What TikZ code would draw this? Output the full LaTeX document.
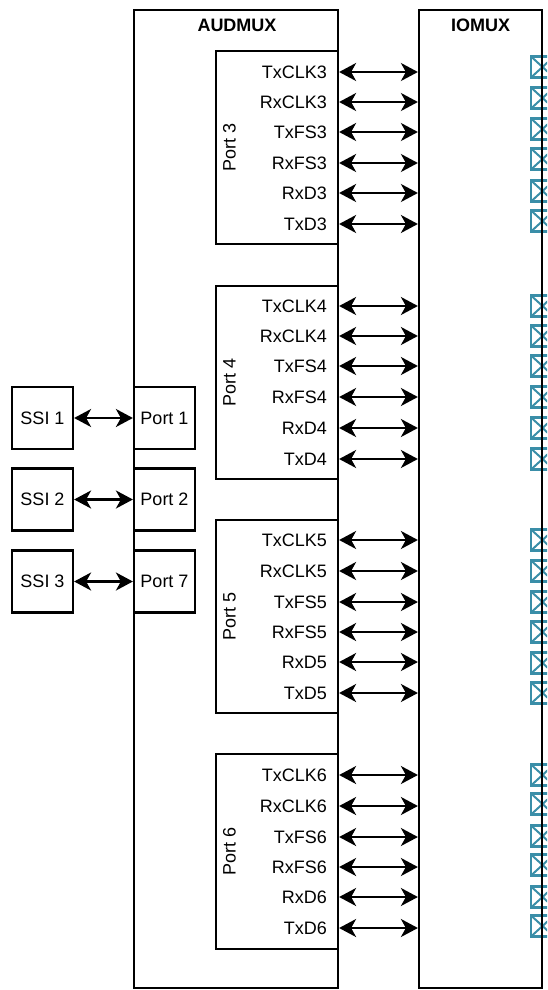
\documentclass[tikz,border=0pt]{standalone}
\usepackage{fontspec}
\setmainfont{Liberation Sans}
\usetikzlibrary{arrows.meta}
\definecolor{padcol}{HTML}{3A8EA8}
\tikzset{
  box/.style={draw=black, line width=2.2pt, inner sep=0pt},
  title/.style={font=\fontsize{18}{21}\selectfont\bfseries, inner sep=0pt},
  lbl/.style={font=\fontsize{18}{21}\selectfont, inner sep=0pt},
  sig/.style={lbl, anchor=east},
  biarrow/.style={line width=2.2pt, {Stealth[length=17pt,width=18pt,inset=5pt]}-{Stealth[length=17pt,width=18pt,inset=5pt]}},
  pad/.style={draw=padcol, line width=2.4pt, minimum width=23pt, minimum height=21pt, inner sep=0pt,
    path picture={\draw[padcol, line width=2pt]
      (path picture bounding box.north west) -- (path picture bounding box.south east)
      (path picture bounding box.south west) -- (path picture bounding box.north east);}}
}
\begin{document}
\begin{tikzpicture}[x=1pt, y=-1pt]
\useasboundingbox (0,0) rectangle (547,990);
\clip (0,0) rectangle (547,990);

% pads (drawn first so that the IOMUX edge lies over them)
\foreach \y [count=\i] in {67,98,129,159,191,221,
                           306,336,366,397,428,459,
                           540,571,602,632,663,693,
                           775,804,836,865,897,926}{
  \node[pad] (pad\i) at (542.5,\y) {};
}

% main boxes
\node[box, minimum width=204pt, minimum height=978pt] (aud) at (236,499) {};
\node[box, minimum width=123pt, minimum height=978pt] (io) at (480.5,499) {};
\node[title] (audt) at (237,25) {AUDMUX};
\node[title] (iot) at (480.5,25) {IOMUX};

% port boxes inside AUDMUX
\node[box, minimum width=122pt, minimum height=193pt] (p3) at (277,147.5) {};
\node[box, minimum width=122pt, minimum height=193pt] (p4) at (277,382.5) {};
\node[box, minimum width=122pt, minimum height=193pt] (p5) at (277,616.5) {};
\node[box, minimum width=122pt, minimum height=195pt] (p6) at (277,851.5) {};

\node[lbl, rotate=90] (p3l) at (229.5,147.5) {Port 3};
\node[lbl, rotate=90] (p4l) at (229.5,382.5) {Port 4};
\node[lbl, rotate=90] (p5l) at (229.5,616.5) {Port 5};
\node[lbl, rotate=90] (p6l) at (229.5,851.5) {Port 6};

% signals
\foreach \p/\ys in {3/{72,102,132,163,193,224},
                    4/{306,336,366,397,428,459},
                    5/{540,571,602,632,662,693},
                    6/{775,806,837,867,897,928}}{
  \foreach \y [count=\k] in \ys {
    \ifcase\k\or
      \def\nm{TxCLK}\or\def\nm{RxCLK}\or\def\nm{TxFS}\or\def\nm{RxFS}\or\def\nm{RxD}\or\def\nm{TxD}\fi
    \node[sig] (s\p-\k) at (327,\y) {\nm\p};
    \draw[biarrow] (p\p.east |- s\p-\k.east) -- (io.west |- s\p-\k.east);
  }
}

% SSI blocks and ports 1, 2, 7
\node[box, lbl, minimum width=61pt, minimum height=62pt] (ssi1) at (42.5,418) {SSI 1};
\node[box, lbl, minimum width=61pt, minimum height=62pt] (ssi2) at (42.5,499.5) {SSI 2};
\node[box, lbl, minimum width=61pt, minimum height=62pt] (ssi3) at (42.5,581.5) {SSI 3};
\node[box, lbl, minimum width=61pt, minimum height=62pt] (pt1) at (164.5,418) {Port 1};
\node[box, lbl, minimum width=61pt, minimum height=62pt] (pt2) at (164.5,499.5) {Port 2};
\node[box, lbl, minimum width=61pt, minimum height=62pt] (pt7) at (164.5,581.5) {Port 7};
\draw[biarrow] (ssi1) -- (pt1);
\draw[biarrow] (ssi2) -- (pt2);
\draw[biarrow] (ssi3) -- (pt7);
\end{tikzpicture}
\end{document}
